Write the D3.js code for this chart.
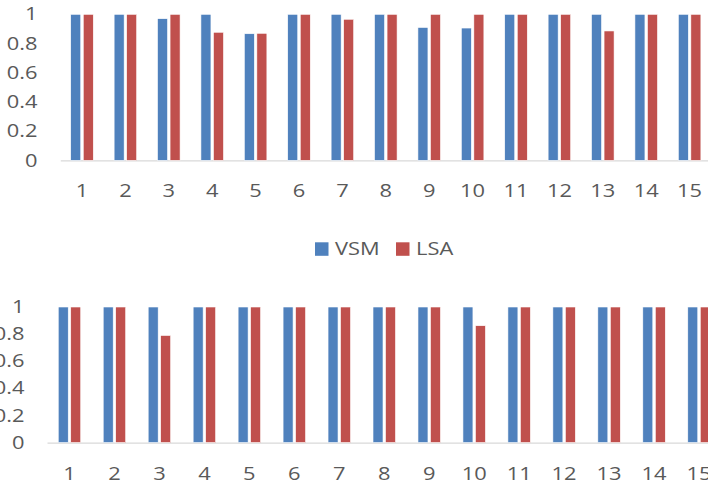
<!DOCTYPE html>
<html>
<head>
<meta charset="utf-8">
<script src="https://cdn.jsdelivr.net/npm/d3@7"></script>
<style>
  html, body { margin: 0; padding: 0; background: #fff; }
  svg { display: block; }
  text { font-family: "Open Sans", "Liberation Sans", sans-serif; fill: #595959; }
</style>
</head>
<body>
<svg id="chart" width="708" height="486"></svg>
<script>
// Categories (query numbers) and series
const categories = ["1","2","3","4","5","6","7","8","9","10","11","12","13","14","15"];
const seriesNames = ["VSM", "LSA"];
const seriesColors = ["#4F81BD", "#C0504D"];

// Upper chart values
const topVSM = [1, 1, 0.97, 1, 0.867, 1, 1, 1, 0.91, 0.906, 1, 1, 1, 1, 1];
const topLSA = [1, 1, 1, 0.877, 0.87, 1, 0.966, 1, 1, 1, 1, 1, 0.886, 1, 1];

// Lower chart values
const botVSM = [1, 1, 1, 1, 1, 1, 1, 1, 1, 1, 1, 1, 1, 1, 1];
const botLSA = [1, 1, 0.79, 1, 1, 1, 1, 1, 1, 0.862, 1, 1, 1, 1, 1];

// Y tick values and their labels
const yTicks = [0, 0.2, 0.4, 0.6, 0.8, 1];
const yTickLabels = ["0", "0.2", "0.4", "0.6", "0.8", "1"];

const FONT_SIZE = 17.5;
const TEXT_STRETCH = "scale(1.25,1)";   // wide label glyphs

const svg = d3.select("#chart");

function styleText(sel) {
  sel.attr("font-size", FONT_SIZE)
     .attr("font-family", "'Open Sans', sans-serif")
     .style("fill", "#595959")
     .attr("transform", TEXT_STRETCH);
}

function drawPanel(cfg) {
  const g = svg.append("g");
  const x0 = d3.scaleBand().domain(categories).range([cfg.x0, cfg.x1]).padding(0);
  const step = x0.step();
  const x1 = d3.scaleBand().domain(seriesNames)
    .range([step * cfg.groupStart, step * (1 - cfg.groupStart)])
    .paddingInner(0.2);
  const y = d3.scaleLinear().domain([0, 1]).range([cfg.yBottom, cfg.yTop]);

  // axis baseline + category labels
  const xAxis = g.append("g")
    .attr("transform", `translate(0,${cfg.yBottom})`)
    .call(d3.axisBottom(x0).tickSize(0).tickPadding(cfg.xLabelPad));
  xAxis.select(".domain").attr("stroke", "#d9d9d9").attr("stroke-width", 1.3);
  styleText(xAxis.selectAll("text"));

  // value labels
  const yAxis = g.append("g")
    .attr("transform", `translate(${cfg.yLabelX},0)`)
    .call(d3.axisLeft(y).tickValues(yTicks).tickSize(0).tickPadding(0)
      .tickFormat((d, i) => yTickLabels[i]));
  yAxis.select(".domain").remove();
  styleText(yAxis.selectAll("text"));

  // bars
  const rows = categories.map((c, i) => ({ c, vals: [cfg.a[i], cfg.b[i]] }));
  const grp = g.selectAll(".grp").data(rows).join("g")
    .attr("transform", d => `translate(${x0(d.c)},0)`);
  grp.selectAll("rect")
    .data(d => d.vals.map((v, k) => ({ v, k })))
    .join("rect")
    .attr("x", d => x1(seriesNames[d.k]))
    .attr("width", x1.bandwidth())
    .attr("y", d => y(d.v))
    .attr("height", d => y(0) - y(d.v))
    .attr("fill", d => seriesColors[d.k])
    .attr("stroke", "#fff")
    .attr("stroke-width", 0.6);
}

drawPanel({ a: topVSM, b: topLSA, x0: 60.3, x1: 711.3, yTop: 14.3, yBottom: 160.4,
            yLabelX: 37.5, groupStart: 0.24, xLabelPad: 24 });
drawPanel({ a: botVSM, b: botLSA, x0: 47, x1: 721.5, yTop: 307, yBottom: 442.6,
            yLabelX: 24.5, groupStart: 0.25, xLabelPad: 24.5 });

// legend
const legend = svg.append("g");
const legendX = [315, 396];
seriesNames.forEach((name, i) => {
  legend.append("rect")
    .attr("x", legendX[i]).attr("y", 242.3)
    .attr("width", 13.5).attr("height", 13.5)
    .attr("fill", seriesColors[i]);
  const t = legend.append("g")
    .attr("transform", `translate(${legendX[i] + 20},255)`)
    .append("text")
    .text(name);
  styleText(t);
});
</script>
</body>
</html>
